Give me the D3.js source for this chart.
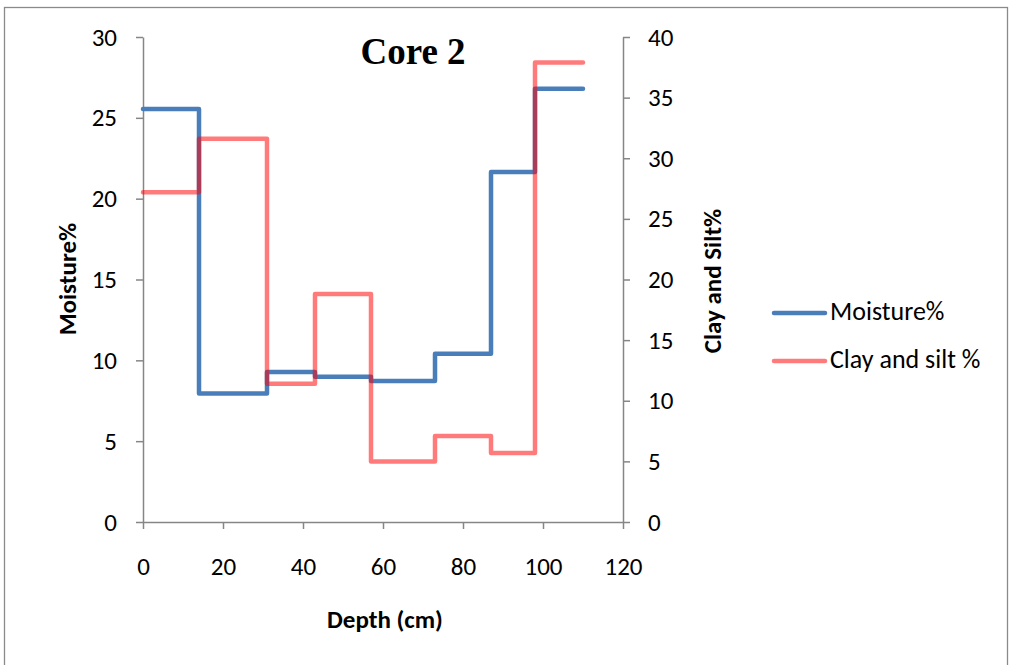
<!DOCTYPE html>
<html><head><meta charset="utf-8">
<script src="https://cdn.jsdelivr.net/npm/d3@7"></script>
<style>body{margin:0;background:#fff;} text{font-family:Calibri,Carlito,Lato,"Open Sans",sans-serif;}</style>
</head><body>
<svg id="c" width="1013" height="665"></svg>
<script>
const depths = [0, 14, 31, 43, 57, 73, 87, 98, 110];
const moisture = [25.55, 7.95, 9.28, 8.98, 8.72, 10.4, 21.65, 26.8];
const claySilt = [27.2, 31.6, 11.4, 18.8, 5.0, 7.1, 5.7, 37.9];
const xTicks = [0, 20, 40, 60, 80, 100, 120];
const leftTicks = [0, 5, 10, 15, 20, 25, 30];
const rightTicks = [0, 5, 10, 15, 20, 25, 30, 35, 40];
const seriesNames = ["Moisture%", "Clay and silt %"];

const FONT = "Calibri,Carlito,Lato,'Open Sans',sans-serif";
const svg = d3.select("#c");
svg.append("rect").attr("x",4.5).attr("y",7.5).attr("width",1003).attr("height",680)
  .attr("fill","#fff").attr("stroke","#8a8a8a").attr("stroke-width",1.3);

const x = d3.scaleLinear().domain([0,120]).range([143,623]);
const yL = d3.scaleLinear().domain([0,30]).range([522,37]);
const yR = d3.scaleLinear().domain([0,40]).range([522,37]);
const axisColor = "#868686";

function styleAxis(g){
  g.selectAll("path").attr("stroke",axisColor).attr("stroke-width",1.5);
  g.selectAll("line").attr("stroke",axisColor).attr("stroke-width",1.5);
  g.selectAll("text").attr("fill","#000").style("font-size","25px").style("font-family",FONT);
}
const gx = svg.append("g").attr("transform","translate(0,522)")
  .call(d3.axisBottom(x).tickValues(xTicks).tickSize(7).tickSizeOuter(0).tickPadding(28));
styleAxis(gx);
const gl = svg.append("g").attr("transform","translate(143,0)")
  .call(d3.axisLeft(yL).tickValues(leftTicks).tickSize(7).tickSizeOuter(0).tickPadding(19));
styleAxis(gl);
const gr = svg.append("g").attr("transform","translate(623,0)")
  .call(d3.axisRight(yR).tickValues(rightTicks).tickSize(7).tickSizeOuter(0).tickPadding(18));
styleAxis(gr);

function stepData(vals){
  const d = vals.map((v,i)=>[depths[i],v]);
  d.push([depths[depths.length-1], vals[vals.length-1]]);
  return d;
}
const lineL = d3.line().x(d=>x(d[0])).y(d=>yL(d[1])).curve(d3.curveStepAfter);
const lineR = d3.line().x(d=>x(d[0])).y(d=>yR(d[1])).curve(d3.curveStepAfter);

svg.append("path").attr("d",lineL(stepData(moisture))).attr("fill","none")
  .attr("stroke","#4a7ebb").attr("stroke-width",4.5).attr("stroke-linejoin","round").attr("stroke-linecap","round");
svg.append("path").attr("d",lineR(stepData(claySilt))).attr("fill","none")
  .attr("stroke","#ff0000").attr("stroke-opacity",0.52).attr("stroke-width",4.5).attr("stroke-linejoin","round").attr("stroke-linecap","round");

svg.append("text").attr("x",413).attr("y",64).attr("text-anchor","middle")
  .style("font-family","'Liberation Serif','Times New Roman',serif").style("font-weight","bold").style("font-size","37px").text("Core 2");
svg.append("text").attr("transform","translate(76,279) rotate(-90)").attr("text-anchor","middle")
  .style("font-weight","bold").style("font-size","25px").text("Moisture%");
svg.append("text").attr("transform","translate(721,281) rotate(-90)").attr("text-anchor","middle")
  .style("font-weight","bold").style("font-size","25px").text("Clay and Silt%");
svg.append("text").attr("x",385).attr("y",628).attr("text-anchor","middle")
  .style("font-weight","bold").style("font-size","25px").text("Depth (cm)");

const legColors = ["#4a7ebb","#ff0000"];
const legOpac = [1,0.52];
const legY = [313,361];
seriesNames.forEach((n,i)=>{
  svg.append("line").attr("x1",774).attr("x2",825).attr("y1",legY[i]).attr("y2",legY[i])
    .attr("stroke",legColors[i]).attr("stroke-opacity",legOpac[i]).attr("stroke-width",4.5).attr("stroke-linecap","round");
  svg.append("text").attr("x",830).attr("y",legY[i]+7).style("font-size","26px").text(n);
});
</script>
</body></html>
